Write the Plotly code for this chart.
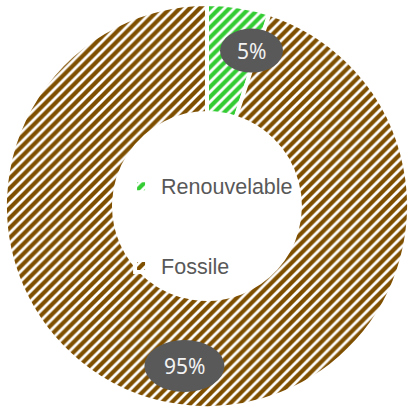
import math
import plotly.graph_objects as go

labels = ["Renouvelable", "Fossile"]
values = [5, 95]
colors = ["#33CC33", "#7F4F00"]
pct_text = ["5%", "95%"]

W, H = 409, 412
dom_x = [0.012, 1.0]
dom_y = [0.0, 1.0]
hole = 0.46

# legend labels padded with blank lines to reproduce the wide vertical spacing
span = "<span style='font-size:21.5px'>{}</span>"
legend_labels = [span.format(labels[0]) + "<br> <br> ", span.format(labels[1])]

fig = go.Figure(go.Pie(
    labels=legend_labels,
    values=values,
    sort=False,
    direction="clockwise",
    rotation=0,
    hole=hole,
    domain=dict(x=dom_x, y=dom_y),
    textinfo="none",
    hoverinfo="skip",
    marker=dict(
        colors=["white", "white"],
        line=dict(color="white", width=4),
        pattern=dict(shape="/", fgcolor=colors, bgcolor="white", fgopacity=1,
                     size=7, solidity=0.6, fillmode="replace"),
    ),
))

# data label ellipses placed near each slice's mid angle
label_nudge_deg = [7, -1]
cx = (dom_x[0] + dom_x[1]) / 2 * W
cy = (1 - (dom_y[0] + dom_y[1]) / 2) * H
R = min((dom_x[1] - dom_x[0]) * W, (dom_y[1] - dom_y[0]) * H) / 2
r_lab = R * 0.8
total = sum(values)
cum = 0
shapes, annots = [], []
for v, t, nd in zip(values, pct_text, label_nudge_deg):
    mid = (cum + v / 2) / total * 2 * math.pi + math.radians(nd)
    cum += v
    px = cx + r_lab * math.sin(mid)
    py = cy - r_lab * math.cos(mid)
    w = 63 if len(t) < 3 else 80
    h = 44 if len(t) < 3 else 52
    shapes.append(dict(type="circle", xref="paper", yref="paper",
                       x0=(px - w / 2) / W, x1=(px + w / 2) / W,
                       y0=1 - (py + h / 2) / H, y1=1 - (py - h / 2) / H,
                       fillcolor="#595959", line=dict(width=0)))
    annots.append(dict(text=t, xref="paper", yref="paper",
                       x=px / W, y=1 - py / H, showarrow=False,
                       xanchor="center", yanchor="middle",
                       font=dict(family="Noto Sans", size=21, color="#F2F2F2")))

fig.update_layout(
    width=W, height=H,
    margin=dict(l=0, r=0, t=0, b=0),
    paper_bgcolor="white",
    plot_bgcolor="white",
    shapes=shapes,
    annotations=annots,
    showlegend=True,
    legend=dict(
        x=0.296, y=0.595, xanchor="left", yanchor="top",
        valign="top",
        font=dict(family="Liberation Sans, Arial", size=19.7, color="#595959"),
        bgcolor="rgba(0,0,0,0)",
    ),
)

fig.write_html("out.html")
